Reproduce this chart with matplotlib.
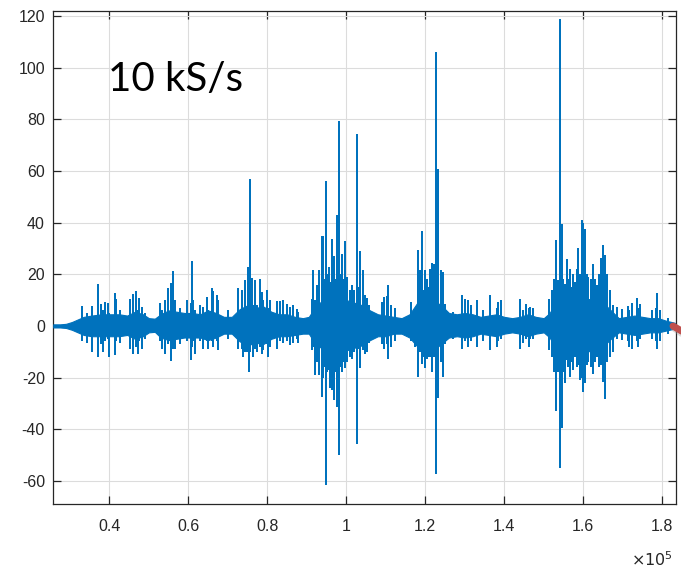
import matplotlib
matplotlib.use("Agg")
import numpy as np
import matplotlib.pyplot as plt
from matplotlib.lines import Line2D

plt.rcParams['axes.unicode_minus'] = False

# Dense body of the trace: envelope in samples (x 1e3) and amplitude
core_x = [25.8, 27.5, 29.0, 30.5, 32.0, 33.5, 35.5, 38.0, 40.5, 42.5, 44.5, 46.5,
          48.5, 50.0, 51.5, 53.0, 55.0, 57.0, 59.0, 61.0, 63.0, 65.0, 67.0, 69.0,
          71.0, 73.0, 75.0, 77.0, 79.0, 81.0, 83.0, 85.0, 87.0, 89.0, 90.5, 92.0,
          94.0, 96.0, 98.0, 100.0, 102.0, 104.0, 106.0, 108.0, 110.0, 112.0, 114.0,
          116.0, 118.0, 120.0, 122.0, 124.0, 126.0, 128.0, 130.0, 132.0, 134.0,
          136.0, 138.0, 140.0, 142.0, 144.0, 146.0, 148.0, 150.0, 151.5, 153.0,
          155.0, 157.0, 159.0, 161.0, 163.0, 165.0, 167.0, 169.0, 171.0, 173.0,
          175.0, 177.0, 179.0, 181.0, 183.2]
core_hi = [0.6, 0.6, 0.8, 1.5, 2.5, 3.5, 4.0, 4.5, 4.5, 4.5, 4.0, 5.5,
           4.5, 3.0, 2.8, 4.5, 6.0, 5.5, 5.0, 5.0, 4.5, 6.0, 5.0, 3.5,
           3.5, 6.5, 8.0, 7.0, 7.5, 5.5, 4.5, 4.5, 3.5, 3.0, 3.5, 7.0,
           10.0, 11.0, 11.0, 10.0, 9.0, 8.0, 6.0, 4.5, 4.0, 3.5, 3.0,
           4.5, 9.0, 10.0, 10.0, 8.0, 5.0, 4.5, 5.0, 4.5, 3.5,
           4.0, 4.5, 3.5, 3.0, 3.5, 4.5, 3.5, 3.0, 5.0, 9.0,
           10.0, 10.0, 10.5, 10.5, 10.0, 9.0, 6.0, 3.0, 3.5, 4.0,
           3.5, 3.0, 3.0, 2.0, 1.2]
core_lo = [-0.6, -0.6, -0.8, -1.5, -2.5, -3.5, -4.0, -4.0, -4.0, -4.0, -3.5, -5.0,
           -4.0, -2.5, -2.3, -4.5, -5.5, -5.0, -4.5, -4.5, -4.5, -5.5, -4.5, -3.0,
           -3.0, -6.0, -7.5, -6.5, -7.0, -5.0, -4.0, -4.0, -3.5, -3.0, -3.0, -6.5,
           -9.0, -10.0, -10.0, -9.5, -8.5, -7.5, -5.5, -4.0, -4.0, -3.0, -3.0,
           -4.5, -8.0, -9.5, -9.5, -7.0, -4.5, -4.0, -4.5, -4.0, -3.0,
           -3.5, -4.0, -3.0, -2.5, -3.0, -4.0, -3.0, -2.5, -4.5, -8.5,
           -9.5, -9.0, -10.0, -10.0, -9.0, -8.0, -5.0, -2.5, -3.0, -3.5,
           -3.0, -2.5, -2.5, -1.8, -1.0]

# Individual excursions: position (x 1e3 samples), peak and trough
spike_x = [33.1, 34.3, 35.5, 37.0, 37.8, 38.5, 38.9, 39.6, 40.0, 41.3, 41.7, 42.7,
           45.2, 46.1, 46.7, 47.3, 47.6, 48.2, 49.0,
           52.8, 53.2, 54.1, 54.9, 55.5, 56.0, 56.6, 57.9,
           59.6, 60.6, 60.8, 61.2, 61.7, 62.9,
           63.8, 64.6, 65.0, 65.9, 66.3, 67.2, 67.6, 70.0,
           72.6, 73.5, 73.9, 74.3, 74.8, 75.2, 75.4, 75.6, 76.0, 76.4, 76.9, 77.3, 78.1,
           78.6, 78.9, 79.8, 80.2, 80.7,
           82.4, 83.2, 83.9, 84.9, 85.7, 86.6, 87.4, 87.8,
           91.2, 91.6, 92.1, 92.7, 93.2, 93.8, 94.1, 94.5, 94.8, 95.2, 95.5, 95.9,
           96.3, 96.6, 96.9, 97.3, 97.6,
           98.2, 98.5, 98.8, 99.2, 99.7, 100.2, 100.9, 101.5, 102.0, 102.6, 103.1,
           103.5, 104.2,
           104.7, 105.2, 105.7, 109.0, 109.6, 110.2, 110.6, 111.3, 112.3,
           116.5, 117.4, 118.1, 118.7, 119.1, 119.5, 119.9, 120.4, 120.8, 121.2,
           121.8, 122.2, 122.6, 123.0, 123.3, 123.9, 124.6,
           125.0, 127.1, 129.2, 130.0, 130.9, 131.7,
           133.2, 134.7, 136.4, 138.1, 138.5, 139.1, 144.0, 144.7, 145.5, 146.2,
           146.5, 147.4,
           151.4, 152.0, 152.5, 153.1, 153.6, 154.1, 154.5, 154.9, 155.4, 155.8,
           156.2, 156.6, 156.9, 157.4, 157.9, 158.3, 158.7, 159.2, 159.6, 160.0,
           160.4, 160.9, 161.3, 161.9, 162.5, 163.0, 163.4, 164.0, 164.6, 165.1,
           165.5, 166.0, 166.8, 167.5,
           168.5, 169.8, 171.4, 171.7, 172.3, 173.5, 173.9, 174.4, 177.3, 178.5,
           178.8, 179.4, 181.4]
spike_hi = [7.7, 5.0, 7.7, 16.1, 8.5, 6.0, 9.3, 8.7, 5.0, 12.6, 10.6, 6.0,
            10.6, 12.3, 13.6, 6.0, 11.0, 7.5, 5.0,
            8.7, 6.0, 10.0, 14.5, 16.8, 21.4, 10.0, 7.0,
            10.0, 9.0, 25.3, 10.0, 6.0, 8.0,
            7.3, 11.3, 6.0, 14.5, 13.5, 12.0, 10.0, 6.0,
            14.5, 14.0, 7.0, 17.8, 7.0, 23.0, 10.0, 57.1, 18.5, 8.0, 17.8, 8.0, 18.3,
            13.0, 10.0, 14.0, 7.0, 10.0,
            9.7, 9.5, 10.0, 8.5, 7.5, 8.0, 6.5, 5.5,
            10.6, 21.7, 10.0, 16.0, 21.5, 34.7, 35.0, 18.0, 56.1, 20.0, 22.8, 17.0,
            33.8, 20.0, 27.0, 18.0, 42.8,
            79.2, 20.0, 28.0, 18.0, 33.0, 19.0, 13.8, 16.0, 14.0, 74.2, 15.0,
            29.0, 21.7,
            11.9, 11.0, 8.0, 9.3, 11.2, 11.5, 16.0, 8.0, 7.0,
            9.3, 6.0, 29.5, 21.5, 36.8, 14.0, 21.5, 18.0, 15.0, 22.0,
            24.4, 24.0, 106.3, 20.0, 60.9, 21.5, 21.0,
            8.5, 5.5, 12.0, 10.5, 10.0, 8.0,
            10.0, 6.0, 12.0, 7.0, 9.4, 10.0, 10.3, 6.0, 8.5, 7.0,
            7.5, 7.0,
            10.6, 14.0, 18.0, 33.3, 17.8, 119.0, 39.6, 18.0, 16.4, 26.0,
            18.0, 22.0, 15.0, 20.0, 17.0, 22.0, 30.0, 20.0, 41.0, 40.0,
            37.5, 20.0, 19.0, 18.0, 24.0, 18.0, 16.0, 20.0, 26.2, 31.4,
            27.5, 20.0, 14.0, 8.0,
            7.5, 6.5, 7.7, 6.0, 8.7, 11.0, 7.0, 8.5, 6.0, 7.0,
            12.9, 6.0, 3.0]
spike_lo = [-6.0, -6.5, -10.1, -12.0, -7.0, -10.1, -6.0, -5.0, -12.0, -11.4, -6.0, -6.5,
            -8.8, -10.8, -8.0, -10.8, -6.0, -8.8, -5.0,
            -6.0, -8.8, -10.8, -7.0, -13.6, -9.0, -9.0, -7.0,
            -6.0, -13.4, -8.0, -6.0, -10.8, -6.0,
            -8.8, -6.0, -8.8, -6.0, -8.2, -6.0, -9.4, -5.0,
            -8.8, -9.0, -12.0, -10.1, -10.0, -8.0, -17.9, -10.0, -7.0, -12.0, -9.0, -10.1, -8.0,
            -10.7, -9.5, -7.0, -12.0, -8.0,
            -8.8, -6.0, -6.5, -6.0, -7.5, -6.5, -5.0, -6.5,
            -9.4, -8.0, -19.2, -14.0, -19.0, -27.5, -20.0, -16.0, -61.7, -18.0, -17.0, -24.0,
            -25.0, -16.0, -28.8, -18.0, -31.4,
            -50.0, -16.0, -18.0, -14.0, -16.5, -14.0, -12.0, -13.0, -10.0, -45.9, -9.0,
            -16.5, -9.4,
            -10.8, -10.0, -6.8, -7.0, -9.0, -7.0, -13.0, -8.0, -6.0,
            -6.0, -8.0, -19.7, -10.0, -14.6, -12.0, -16.5, -13.0, -12.0, -12.0,
            -17.8, -12.0, -57.5, -13.0, -28.0, -14.0, -19.7,
            -7.0, -5.0, -9.0, -6.0, -8.0, -6.0,
            -8.2, -6.0, -9.5, -8.2, -6.0, -5.0, -8.8, -6.5, -5.0, -8.0,
            -5.0, -5.0,
            -9.5, -12.0, -18.0, -33.0, -18.0, -55.2, -39.7, -18.0, -22.0, -13.4,
            -16.0, -19.8, -14.0, -17.0, -12.0, -16.0, -15.0, -21.0, -20.0, -25.7,
            -22.0, -15.0, -14.0, -16.0, -18.5, -14.0, -12.0, -16.0, -15.0, -21.8,
            -28.3, -14.0, -12.0, -10.0,
            -5.0, -5.5, -6.0, -8.0, -8.8, -6.0, -8.2, -5.0, -5.0, -6.0,
            -8.8, -6.0, -3.0]

x_ticks = [40000, 60000, 80000, 100000, 120000, 140000, 160000, 180000]
x_tick_labels = ['0.4', '0.6', '0.8', '1', '1.2', '1.4', '1.6', '1.8']
y_ticks = [-60, -40, -20, 0, 20, 40, 60, 80, 100, 120]

blue = '#0072BD'
ink = '#262626'

fig = plt.figure(figsize=(6.81, 5.68), dpi=100)
ax = fig.add_axes([0.0783, 0.1127, 0.9144, 0.8679])

cx = np.array(core_x) * 1000
sx = np.array(spike_x) * 1000
ax.fill_between(cx, core_lo, core_hi, color=blue, lw=0.8, edgecolor=blue, zorder=3)
ax.vlines(sx, spike_lo, spike_hi, color=blue, lw=1.1, zorder=3,
          antialiased=False)

ax.set_xlim(25800, 183500)
ax.set_ylim(-69, 122)
ax.set_xticks(x_ticks)
ax.set_xticklabels(x_tick_labels)
ax.set_yticks(y_ticks)

ax.grid(True, color='#dcdcdc', lw=0.8)
ax.set_axisbelow(True)
for s in ax.spines.values():
    s.set_color(ink)
    s.set_linewidth(0.9)
ax.tick_params(axis='both', direction='in', length=6, width=0.9, color=ink,
               top=True, right=True, labelcolor=ink, labelsize=11.5)
ax.tick_params(axis='x', pad=11)
ax.tick_params(axis='y', pad=6)
for lab in ax.get_xticklabels() + ax.get_yticklabels():
    lab.set_fontfamily('Liberation Sans')

# exponent for the x axis
fig.text(631 / 681, (568 - 565.5) / 568, r'$\times10^{5}$', fontsize=11.5,
         color=ink, family='Liberation Sans', ha='left', va='baseline')

ax.text(39650, 90.9, '10 kS/s', fontsize=29, family='Lato', color='black',
        ha='left', va='baseline', zorder=5)

# red pointer at the end of the trace
shadow = Line2D([674 / 681, 690 / 681], [(568 - 328) / 568, (568 - 339) / 568],
                transform=fig.transFigure, color='#999999', alpha=0.35, lw=5,
                solid_capstyle='round')
pointer = Line2D([673 / 681, 690 / 681], [(568 - 326) / 568, (568 - 336) / 568],
                 transform=fig.transFigure, color='#c0504d', lw=5,
                 solid_capstyle='round')
fig.add_artist(shadow)
fig.add_artist(pointer)

fig.savefig('out.png', dpi=100)
